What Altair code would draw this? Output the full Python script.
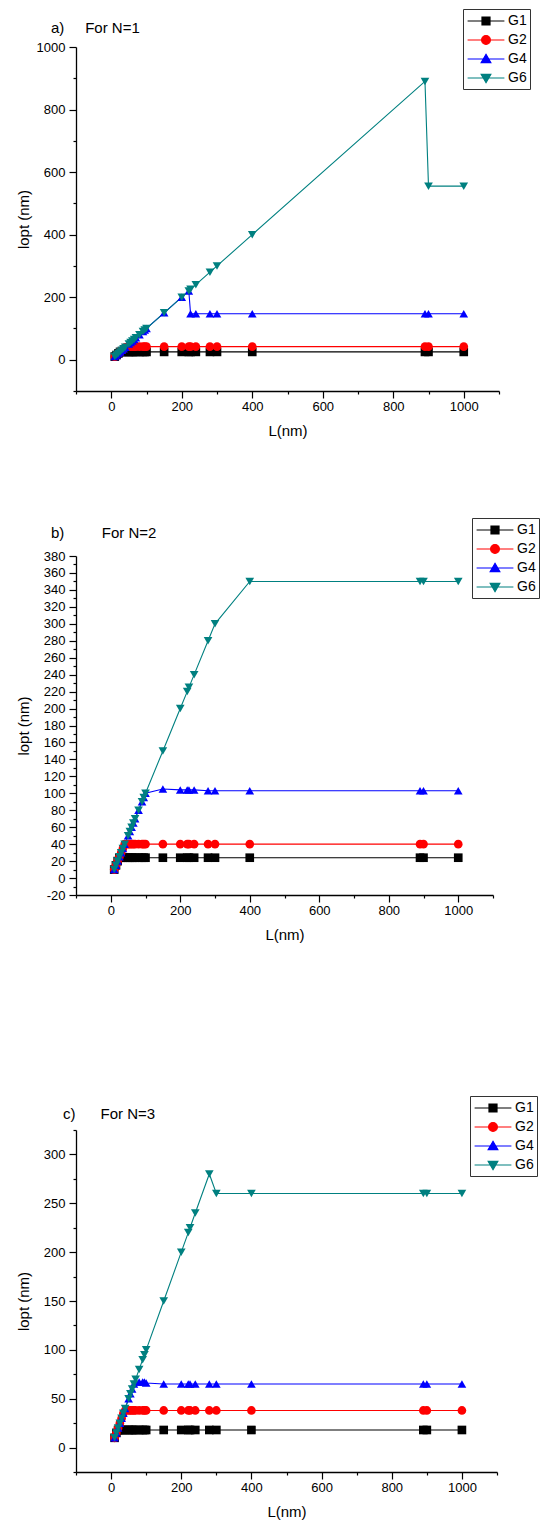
import altair as alt
import pandas as pd

FONT = "Liberation Sans"

# ---------------- data ----------------
L = [10, 15, 20, 25, 30, 35, 40, 50, 55, 60, 65, 70, 80, 90, 95, 100,
     150, 200, 220, 225, 240, 280, 300, 400, 890, 900, 1000]

series_names = ["G1", "G2", "G4", "G6"]
series_colors = ["#000000", "#FF0000", "#0000FF", "#008080"]
marker_shapes = ["square", "circle", "triangle-up", "triangle-down"]
legend_paths = [
    "M-2.3,0H2.3M-0.5,-0.5H0.5V0.5H-0.5Z",
    "M-2.3,0H2.3M0.55,0A0.55,0.55 0 1,1 -0.55,0A0.55,0.55 0 1,1 0.55,0Z",
    "M-2.3,0H2.3M0,-0.58L0.6,0.45H-0.6Z",
    "M-2.3,0H2.3M0,0.58L0.6,-0.45H-0.6Z",
]

# a) N=1
a_G1 = [10, 15, 20, 25, 25, 25, 25, 25, 25, 25, 25, 25, 25, 25, 25, 25,
        25, 25, 25, 25, 25, 25, 25, 25, 25, 25, 25]
a_G2 = [10, 15, 20, 25, 30, 35, 40, 42, 42, 42, 42, 42, 42, 42, 42, 42,
        42, 42, 42, 42, 42, 42, 42, 42, 42, 42, 42]
a_G4 = [10, 15, 20, 25, 30, 35, 40, 50, 55, 60, 65, 70, 80, 90, 95, 100,
        150, 200, 220, 147, 147, 147, 147, 147, 147, 147, 147]
a_G6 = [10, 15, 20, 25, 30, 35, 40, 50, 55, 60, 65, 70, 80, 90, 95, 100,
        150, 200, 220, 225, 240, 280, 300, 400, 890, 555, 555]

# b) N=2
b_G1 = [10, 15, 20, 24, 24, 24, 24, 24, 24, 24, 24, 24, 24, 24, 24, 24,
        24, 24, 24, 24, 24, 24, 24, 24, 24, 24, 24]
b_G2 = [10, 15, 20, 25, 30, 35, 40, 40, 40, 40, 40, 40, 40, 40, 40, 40,
        40, 40, 40, 40, 40, 40, 40, 40, 40, 40, 40]
b_G4 = [10, 15, 20, 25, 30, 35, 40, 50, 55, 60, 65, 70, 80, 90, 95, 100,
        105, 104, 104, 104, 104, 103, 103, 103, 103, 103, 103]
b_G6 = [10, 15, 20, 25, 30, 35, 40, 50, 55, 60, 65, 70, 80, 90, 95, 100,
        150, 200, 220, 225, 240, 280, 300, 350, 350, 350, 350]

# c) N=3
c_G1 = [10, 15, 18, 18, 18, 18, 18, 18, 18, 18, 18, 18, 18, 18, 18, 18,
        18, 18, 18, 18, 18, 18, 18, 18, 18, 18, 18]
c_G2 = [10, 15, 20, 25, 30, 35, 38, 38, 38, 38, 38, 38, 38, 38, 38, 38,
        38, 38, 38, 38, 38, 38, 38, 38, 38, 38, 38]
c_G4 = [10, 15, 20, 25, 30, 35, 40, 50, 55, 60, 65, 67, 67, 67, 67, 66,
        65, 65, 65, 65, 65, 65, 65, 65, 65, 65, 65]
c_G6 = [10, 15, 20, 25, 30, 35, 40, 50, 55, 60, 65, 70, 80, 90, 95, 100,
        150, 200, 220, 225, 240, 280, 260, 260, 260, 260, 260]

x_ticks = list(range(-100, 1101, 100))


def make_df(values):
    rows = []
    for name, ys in zip(series_names, values):
        for l, v in zip(L, ys):
            rows.append({"L": l, "series": name, "lopt": v})
    return pd.DataFrame(rows)


def panel(values, ydom, ystep, ymajor, width, height, title_text, title_dx,
          title_offset, lx, ly):
    df = make_df(values)
    y_ticks = list(range(ydom[0], ydom[1] + 1, ystep))
    xaxis = alt.Axis(
        values=x_ticks,
        labelExpr="datum.value % 200 === 0 ? '' + datum.value : ''",
        tickSize={"condition": {"test": "datum.value % 200 === 0", "value": 7}, "value": 3},
        labelPadding=2.5, labelOverlap=False, title="L(nm)", titlePadding=10,
    )
    yaxis = alt.Axis(
        values=y_ticks,
        labelExpr=f"datum.value % {ymajor} === 0 ? '' + datum.value : ''",
        tickSize={"condition": {"test": f"datum.value % {ymajor} === 0", "value": 7}, "value": 3},
        labelPadding=4, labelOverlap=False, title="lopt (nm)",
        titleX=-53, titleBaseline="middle",
    )
    x = alt.X("L:Q", scale=alt.Scale(domain=[-100, 1100], nice=False, zero=False), axis=xaxis)
    y = alt.Y("lopt:Q", scale=alt.Scale(domain=list(ydom), nice=False, zero=False), axis=yaxis)
    color = alt.Color("series:N", scale=alt.Scale(domain=series_names, range=series_colors), legend=None)

    lines = alt.Chart(df).mark_line(strokeWidth=1.1).encode(x=x, y=y, color=color)
    pts = alt.Chart(df).mark_point(filled=True, opacity=1, size=75, strokeWidth=0).encode(
        x=x, y=y, color=color,
        shape=alt.Shape("series:N", scale=alt.Scale(domain=series_names, range=marker_shapes), legend=None),
    )
    leg = alt.Legend(
        orient="none", legendX=lx, legendY=ly, title=None,
        strokeColor="#333333", fillColor="white", padding=3,
        symbolSize=256, symbolOffset=11, labelOffset=13, rowPadding=3,
        labelFontSize=14, labelFont=FONT, labelColor="black",
        symbolStrokeWidth=1.2,
    )
    legend_layer = alt.Chart(df).transform_filter("false").mark_point(
        filled=True, opacity=1, size=256
    ).encode(
        color=alt.Color("series:N", scale=alt.Scale(domain=series_names, range=series_colors), legend=leg),
        stroke=alt.Stroke("series:N", scale=alt.Scale(domain=series_names, range=series_colors), legend=leg),
        shape=alt.Shape("series:N", scale=alt.Scale(domain=series_names, range=legend_paths), legend=leg),
    )
    return alt.layer(lines, pts, legend_layer).resolve_scale(
        color="independent", shape="independent", stroke="independent"
    ).properties(
        width=width, height=height,
        title=alt.TitleParams(
            text=title_text, anchor="start", frame="group", dx=title_dx,
            offset=title_offset, baseline="alphabetic", fontSize=15,
            font=FONT, fontWeight="normal", color="black",
        ),
    )


def spacer(h):
    return alt.Chart(pd.DataFrame({"s": [0]})).mark_point().encode(
        opacity=alt.value(0)
    ).properties(width=1, height=h)


NB = "\u00a0"
pa = panel([a_G1, a_G2, a_G4, a_G6], (-100, 1000), 100, 200, 423, 344,
           "a)" + NB * 5 + "For N=1", -25, -39.5, 387, -38)
pb = panel([b_G1, b_G2, b_G4, b_G6], (-20, 380), 10, 20, 417, 339,
           "b)" + NB * 9 + "For N=2", -25, -35.5, 396, -38)
pc = panel([c_G1, c_G2, c_G4, c_G6], (-25, 325), 25, 50, 421, 342,
           "c)" + NB * 6 + "For N=3", -13, -38, 394, -34)

chart = alt.vconcat(
    pa, spacer(165), pb, spacer(235), pc, spacing=0, bounds="flush"
).resolve_scale(
    color="independent", shape="independent", stroke="independent"
).properties(
    padding={"left": 8, "top": 0, "right": 0, "bottom": 0}
).configure_view(
    strokeWidth=0
).configure_axis(
    domainColor="black", domainWidth=1.3, tickColor="black", tickWidth=1.2,
    labelColor="black", titleColor="black", labelFont=FONT, titleFont=FONT,
    labelFontSize=13, titleFontSize=15, titleFontWeight="normal", grid=False,
)

chart.save("out.html", embed_options={"renderer": "svg", "actions": False})
